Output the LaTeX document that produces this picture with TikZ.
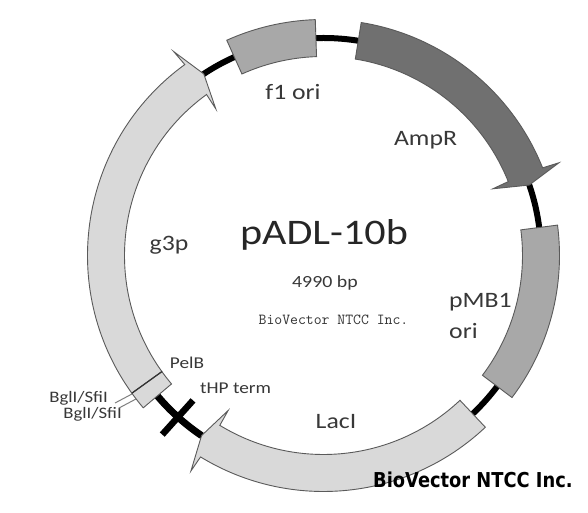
\documentclass[tikz,border=0pt]{standalone}
\usepackage{fontspec}
\usepackage{graphicx}
\newfontfamily\carlito{Carlito}
\newfontfamily\dejavu{DejaVu Sans}
\definecolor{lightg}{HTML}{D9D9D9}
\definecolor{midg}{HTML}{A8A8A8}
\definecolor{darkg}{HTML}{707070}
\definecolor{edgeg}{HTML}{5A5A5A}
\definecolor{txt}{HTML}{383838}
\newcommand\hstretch[1]{\scalebox{1.17}[1]{#1}}
\begin{document}
\begin{tikzpicture}[x=1pt,y=1pt,
  feat/.style={draw=edgeg, line width=0.9pt, line join=miter},
  lbl/.style={inner sep=0pt, text=txt, font=\carlito\fontsize{22}{26}\selectfont},
  small/.style={inner sep=0pt, text=txt, font=\carlito\fontsize{16.5}{20}\selectfont},
  leader/.style={draw=gray, line width=1pt},
]
\useasboundingbox (0,0) rectangle (588,513);
\fill[white] (0,0) rectangle (588,513);
\begin{scope}[shift={(323.5,257.5)}]
\def\Rin{199}\def\Rout{236}\def\Rmid{217.5}\def\Win{182}\def\Wout{253}
% backbone
\draw[line width=6pt] (0,0) circle[radius=\Rmid];
% tHP terminator
\draw[line width=7pt] (-124.1:\Rmid) arc[start angle=-124.1, end angle=-139.8, radius=\Rmid];
\draw[line width=6.5pt] (-132:195) -- (-132:241);
% g3p
\draw[feat, fill=lightg] (215.7:\Rout) arc[start angle=215.7, end angle=126, radius=\Rout]
  -- (126.3:\Wout) -- (123.4:\Rmid) -- (126.3:\Win) -- (126:\Rin)
  arc[start angle=126, end angle=215.7, radius=\Rin] -- cycle;
% PelB
\draw[feat, fill=lightg] (-144.3:\Rout) arc[start angle=-144.3, end angle=-139.8, radius=\Rout]
  -- (-139.8:\Rin) arc[start angle=-139.8, end angle=-144.3, radius=\Rin] -- cycle;
\draw[draw=black!80, line width=1.2pt] (-144.3:\Rin) -- (-144.3:\Rout);
% f1 ori
\draw[feat, fill=midg] (114.2:\Rout) arc[start angle=114.2, end angle=92, radius=\Rout]
  -- (92:\Rin) arc[start angle=92, end angle=114.2, radius=\Rin] -- cycle;
% AmpR
\draw[feat, fill=darkg] (80.8:\Rout) arc[start angle=80.8, end angle=21.8, radius=\Rout]
  -- (21.5:\Wout) -- (18.9:\Rmid) -- (21.5:\Win) -- (21.8:\Rin)
  arc[start angle=21.8, end angle=80.8, radius=\Rin] -- cycle;
% pMB1 ori
\draw[feat, fill=midg] (7.4:\Rout) arc[start angle=7.4, end angle=-37, radius=\Rout]
  -- (-37:\Rin) arc[start angle=-37, end angle=7.4, radius=\Rin] -- cycle;
% LacI
\draw[feat, fill=lightg] (-46.7:\Rout) arc[start angle=-46.7, end angle=-121.4, radius=\Rout]
  -- (-121.6:\Wout) -- (-124.1:\Rmid) -- (-121.6:\Win) -- (-121.4:\Rin)
  arc[start angle=-121.4, end angle=-46.7, radius=\Rin] -- cycle;
\end{scope}
% labels
\node[inner sep=0pt, anchor=base, text=black!85, font=\carlito\fontsize{36}{40}\selectfont] (title) at (324,268) {\hstretch{pADL-10b}};
\node[inner sep=0pt, anchor=base, text=txt, font=\carlito\fontsize{17}{20}\selectfont] (size) at (325,225) {\hstretch{4990 bp}};
\node[inner sep=0pt, anchor=base, text=black!80, font=\ttfamily\fontsize{15.3}{18}\selectfont] (mono) at (333.5,188) {BioVector NTCC Inc.};
\node[lbl, anchor=base] (g3p) at (169,262) {\hstretch{g3p}};
\node[lbl, anchor=base] (f1) at (293,413) {\hstretch{f1 ori}};
\node[lbl, anchor=base] (ampr) at (425.5,367) {\hstretch{AmpR}};
\node[lbl, anchor=base west] (pmb) at (449,205) {\hstretch{pMB1}};
\node[lbl, anchor=base west] (pmbori) at (449,174) {\hstretch{ori}};
\node[lbl, anchor=base] (laci) at (336,84) {\hstretch{LacI}};
\node[small, anchor=base] (pelb) at (187,144) {\hstretch{PelB}};
\node[small, anchor=base west] (thp) at (200,119) {\hstretch{tHP term}};
\node[small, anchor=base east, font=\carlito\fontsize{16}{20}\selectfont] (bgl1) at (108,110) {\hstretch{BglI/SfiI}};
\node[small, anchor=base east, font=\carlito\fontsize{16}{20}\selectfont] (bgl2) at (122,94) {\hstretch{BglI/SfiI}};
\coordinate (s1) at (132,119);
\coordinate (s2) at (136,114);
\draw[leader] (115,110) -- (s1);
\draw[leader] (119,105) -- (s2);
\node[inner sep=0pt, anchor=base west, text=black, font=\dejavu\bfseries\fontsize{20.5}{24}\selectfont] (brand) at (373,25) {\scalebox{0.87}[1]{BioVector NTCC Inc.}};
\end{tikzpicture}
\end{document}
